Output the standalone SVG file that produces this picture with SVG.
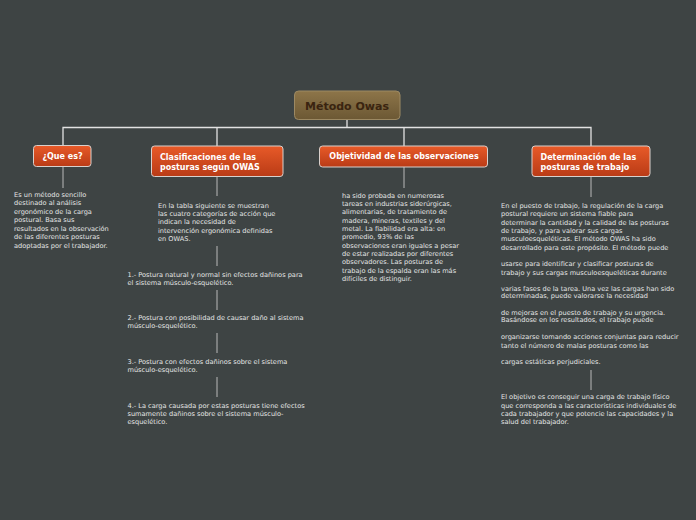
<svg xmlns="http://www.w3.org/2000/svg" width="696" height="520" viewBox="0 0 696 520">
<defs>
<linearGradient id="gMain" x1="0" y1="0" x2="0" y2="1"><stop offset="0" stop-color="#8d7549"/><stop offset="1" stop-color="#6c5834"/></linearGradient>
<linearGradient id="gSub" x1="0" y1="0" x2="0" y2="1"><stop offset="0" stop-color="#e85a28"/><stop offset="1" stop-color="#b93b16"/></linearGradient>
</defs>
<style>
.main{fill:url(#gMain);stroke:#9c8963;stroke-width:1}
.sub{fill:url(#gSub);stroke:#d8d0cc;stroke-width:1}
.mt{font-family:"DejaVu Sans",sans-serif;font-weight:bold;font-size:11px;fill:#3a2410}
.st{font-family:"DejaVu Sans",sans-serif;font-weight:bold;font-size:8px;fill:#ffffff}
.bt{font-family:"DejaVu Sans",sans-serif;font-size:6.6px;fill:#e4e4e4}
.c1{stroke:#e2e2e2;stroke-width:1.3;fill:none}
.c2{stroke:#b9b9b9;stroke-width:1;fill:none}
</style>
<rect width="696" height="520" fill="#3e4444"/>
<g id="connectors">
<path class="c1" d="M347 119.5V127.5M63 146V127.5H591V146M217 127.5V146M404 127.5V146"/>
<path class="c2" d="M63 167V188M217 177V196M217 246V266M217 290V310M217 333V353M217 377V397M404 167V188M591 177V197M591 370V390"/>
</g>
<g id="main">
<rect class="main" x="294.5" y="91" width="105.5" height="28.5" rx="4"/>
<text class="mt" x="347" y="109.5" text-anchor="middle">Método Owas</text>
</g>
<g id="que">
<rect class="sub" x="33.5" y="145.5" width="57.5" height="21" rx="3"/>
<text class="st" x="62.5" y="159" text-anchor="middle">¿Que es?</text>
</g>
<g id="que-text">
<text class="bt" x="14"><tspan x="14" y="196.5">Es un método sencillo</tspan><tspan x="14" y="205">destinado al análisis</tspan><tspan x="14" y="213.5">ergonómico de la carga</tspan><tspan x="14" y="222">postural. Basa sus</tspan><tspan x="14" y="230.5">resultados en la observación</tspan><tspan x="14" y="239">de las diferentes posturas</tspan><tspan x="14" y="247.5">adoptadas por el trabajador.</tspan></text>
</g>
<g id="clas">
<rect class="sub" x="151.5" y="146" width="131.5" height="30.5" rx="3"/>
<text class="st"><tspan x="160" y="159.5">Clasificaciones de las</tspan><tspan x="160" y="169.5">posturas según OWAS</tspan></text>
</g>
<g id="clas-intro">
<text class="bt"><tspan x="158" y="207.5">En la tabla siguiente se muestran</tspan><tspan x="158" y="215.5">las cuatro categorías de acción que</tspan><tspan x="158" y="224">indican la necesidad de</tspan><tspan x="158" y="232.5">intervención ergonómica definidas</tspan><tspan x="158" y="241">en OWAS.</tspan></text>
</g>
<g id="clas-1">
<text class="bt"><tspan x="127.5" y="276.5">1.- Postura natural y normal sin efectos dañinos para</tspan><tspan x="127.5" y="284.5">el sistema músculo-esquelético.</tspan></text>
</g>
<g id="clas-2">
<text class="bt"><tspan x="127.5" y="319.5">2.- Postura con posibilidad de causar daño al sistema</tspan><tspan x="127.5" y="327.5">músculo-esquelético.</tspan></text>
</g>
<g id="clas-3">
<text class="bt"><tspan x="127.5" y="363.5">3.- Postura con efectos dañinos sobre el sistema</tspan><tspan x="127.5" y="372">músculo-esquelético.</tspan></text>
</g>
<g id="clas-4">
<text class="bt"><tspan x="127.5" y="407.5">4.- La carga causada por estas posturas tiene efectos</tspan><tspan x="127.5" y="415.5">sumamente dañinos sobre el sistema músculo-</tspan><tspan x="127.5" y="423.5">esquelético.</tspan></text>
</g>
<g id="obj">
<rect class="sub" x="319.5" y="146" width="168" height="21" rx="3"/>
<text class="st" x="404" y="159" text-anchor="middle">Objetividad de las observaciones</text>
</g>
<g id="obj-text">
<text class="bt"><tspan x="342" y="197.5">ha sido probada en numerosas</tspan><tspan x="342" y="206">tareas en industrias siderúrgicas,</tspan><tspan x="342" y="214.3">alimentarias, de tratamiento de</tspan><tspan x="342" y="222.6">madera, mineras, textiles y del</tspan><tspan x="342" y="231">metal. La fiabilidad era alta: en</tspan><tspan x="342" y="239.3">promedio, 93% de las</tspan><tspan x="342" y="247.6">observaciones eran iguales a pesar</tspan><tspan x="342" y="256">de estar realizadas por diferentes</tspan><tspan x="342" y="264.3">observadores. Las posturas de</tspan><tspan x="342" y="272.6">trabajo de la espalda eran las más</tspan><tspan x="342" y="281">difíciles de distinguir.</tspan></text>
</g>
<g id="det">
<rect class="sub" x="532" y="146" width="118" height="30.5" rx="3"/>
<text class="st"><tspan x="540.5" y="159.5">Determinación de las</tspan><tspan x="540.5" y="169.5">posturas de trabajo</tspan></text>
</g>
<g id="det-text">
<text class="bt"><tspan x="501" y="208">En el puesto de trabajo, la regulación de la carga</tspan><tspan x="501" y="216.3">postural requiere un sistema fiable para</tspan><tspan x="501" y="224.6">determinar la cantidad y la calidad de las posturas</tspan><tspan x="501" y="233">de trabajo, y para valorar sus cargas</tspan><tspan x="501" y="241.3">musculoesqueléticas. El método OWAS ha sido</tspan><tspan x="501" y="249.6">desarrollado para este propósito. El método puede</tspan><tspan x="501" y="265.5">usarse para identificar y clasificar posturas de</tspan><tspan x="501" y="274.5">trabajo y sus cargas musculoesqueléticas durante</tspan><tspan x="501" y="290.5">varias fases de la tarea. Una vez las cargas han sido</tspan><tspan x="501" y="298.3">determinadas, puede valorarse la necesidad</tspan><tspan x="501" y="314.5">de mejoras en el puesto de trabajo y su urgencia.</tspan><tspan x="501" y="322.3">Basándose en los resultados, el trabajo puede</tspan><tspan x="501" y="338.8">organizarse tomando acciones conjuntas para reducir</tspan><tspan x="501" y="347.5">tanto el número de malas posturas como las</tspan><tspan x="501" y="364">cargas estáticas perjudiciales.</tspan></text>
</g>
<g id="det-text2">
<text class="bt"><tspan x="501" y="399">El objetivo es conseguir una carga de trabajo físico</tspan><tspan x="501" y="407.5">que corresponda a las características individuales de</tspan><tspan x="501" y="416">cada trabajador y que potencie las capacidades y la</tspan><tspan x="501" y="424">salud del trabajador.</tspan></text>
</g>
</svg>
